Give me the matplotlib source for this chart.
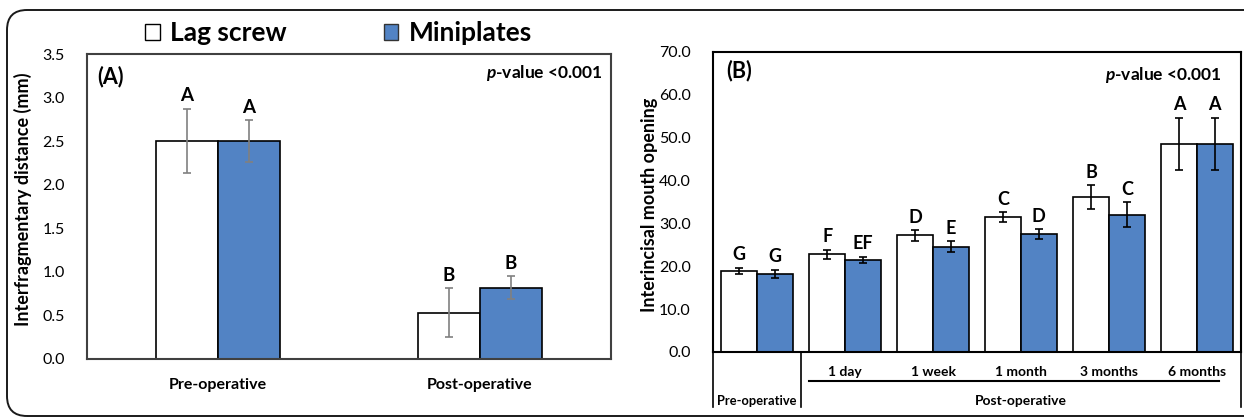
import numpy as np
import matplotlib.pyplot as plt
from matplotlib.patches import Patch, FancyBboxPatch
from matplotlib.ticker import FormatStrFormatter

plt.rcParams['font.family'] = ['Lato', 'DejaVu Sans']
plt.rcParams['mathtext.fontset'] = 'custom'
plt.rcParams['mathtext.bfit'] = 'Lato:italic:bold'
plt.rcParams['mathtext.it'] = 'Lato:italic:bold'

blue = '#5283c4'

# Panel A: interfragmentary distance (mm)
groups_a = ['Pre-operative', 'Post-operative']
lag_a = [2.50, 0.53]
lag_a_err = [0.37, 0.28]
mini_a = [2.50, 0.82]
mini_a_err = [0.24, 0.13]
lag_a_letters = ['A', 'B']
mini_a_letters = ['A', 'B']

# Panel B: interincisal mouth opening
times_b = ['', '1 day', '1 week', '1 month', '3 months', '6 months']
lag_b = [18.9, 22.8, 27.2, 31.5, 36.1, 48.6]
lag_b_err = [0.8, 1.1, 1.2, 1.1, 2.8, 6.1]
mini_b = [18.2, 21.5, 24.6, 27.5, 32.0, 48.6]
mini_b_err = [0.9, 0.75, 1.2, 1.1, 2.9, 6.1]
lag_b_letters = ['G', 'F', 'D', 'C', 'B', 'A']
mini_b_letters = ['G', 'EF', 'E', 'D', 'C', 'A']

fig = plt.figure(figsize=(12.44, 4.17), dpi=100)

# rounded frame round the whole figure (runs off the right edge)
frame = FancyBboxPatch((0.07, 0.01), 13.0, 4.06, boxstyle='round,pad=0,rounding_size=0.2',
                       transform=fig.dpi_scale_trans, facecolor='none', edgecolor='#1a1a1a', lw=1.4)
fig.add_artist(frame)


def letters(ax, xs, tops, labs, size):
    for x, t, s in zip(xs, tops, labs):
        ax.annotate(s, (x, t), xytext=(0, 9.5), textcoords='offset points',
                    ha='center', va='center', fontsize=size, fontweight='bold')


# ---- panel A ----
ax1 = fig.add_axes([0.0699, 0.1391, 0.4212, 0.7314])
x = np.arange(len(groups_a))
w = 0.237
ek = dict(ecolor='#808080', elinewidth=1.2, capsize=3, capthick=1.2)
ax1.bar(x - w / 2, lag_a, w, color='white', edgecolor='black', lw=1.2, yerr=lag_a_err, error_kw=ek)
ax1.bar(x + w / 2, mini_a, w, color=blue, edgecolor='black', lw=1.2, yerr=mini_a_err, error_kw=ek)
letters(ax1, x - w / 2, np.add(lag_a, lag_a_err), lag_a_letters, 13.5)
letters(ax1, x + w / 2, np.add(mini_a, mini_a_err), mini_a_letters, 13.5)
ax1.set_xlim(-0.5, 1.5)
ax1.set_ylim(0, 3.5)
ax1.set_yticks(np.arange(0, 3.51, 0.5))
ax1.yaxis.set_major_formatter(FormatStrFormatter('%.1f'))
ax1.set_xticks(x)
ax1.set_xticklabels(groups_a, fontweight='bold', fontsize=11.5)
ax1.tick_params(axis='y', length=0, pad=16, labelsize=11.5)
ax1.tick_params(axis='x', length=0, pad=14)
for sp in ax1.spines.values():
    sp.set_color('#404040')
    sp.set_linewidth(1.5)
ax1.set_ylabel('Interfragmentary distance (mm)', fontsize=13, fontweight='bold')
ax1.yaxis.set_label_coords(-0.105, 0.525)
ax1.text(0.019, 0.925, '(A)', transform=ax1.transAxes, fontsize=15.5, fontweight='bold', va='center')
ax1.text(0.985, 0.938, r'$\mathbfit{p}$-value <0.001', transform=ax1.transAxes, fontsize=12.5,
         fontweight='bold', ha='right', va='center')

# ---- panel B ----
ax2 = fig.add_axes([0.5732, 0.1559, 0.4244, 0.7194])
x = np.arange(len(times_b))
w = 0.405
ek = dict(ecolor='black', elinewidth=1.2, capsize=3, capthick=1.2)
ax2.bar(x - w / 2, lag_b, w, color='white', edgecolor='black', lw=1.2, yerr=lag_b_err, error_kw=ek)
ax2.bar(x + w / 2, mini_b, w, color=blue, edgecolor='black', lw=1.2, yerr=mini_b_err, error_kw=ek)
letters(ax2, x - w / 2, np.add(lag_b, lag_b_err), lag_b_letters, 13)
letters(ax2, x + w / 2, np.add(mini_b, mini_b_err), mini_b_letters, 13)
ax2.set_xlim(-0.5, 5.5)
ax2.set_ylim(0, 70)
ax2.set_yticks(np.arange(0, 70.1, 10))
ax2.yaxis.set_major_formatter(FormatStrFormatter('%.1f'))
ax2.set_xticks([])
ax2.tick_params(axis='y', length=0, pad=16, labelsize=11.5)
for sp in ax2.spines.values():
    sp.set_color('black')
    sp.set_linewidth(1.5)
ax2.set_ylabel('Interincisal mouth opening', fontsize=13, fontweight='bold')
ax2.yaxis.set_label_coords(-0.104, 0.49)
ax2.text(0.025, 0.937, '(B)', transform=ax2.transAxes, fontsize=15.5, fontweight='bold', va='center')
ax2.text(0.964, 0.923, r'$\mathbfit{p}$-value <0.001', transform=ax2.transAxes, fontsize=12.5,
         fontweight='bold', ha='right', va='center')

# category table under panel B
tr = ax2.get_xaxis_transform()
for xv in [-0.5, 0.5, 5.5]:
    ax2.plot([xv, xv], [0, -0.183], color='black', lw=1.2, transform=tr, clip_on=False)
ax2.plot([1 - w, 5.25], [-0.097, -0.097], color='black', lw=1.5, transform=tr, clip_on=False)
for xv, lab in zip(x, times_b):
    ax2.text(xv, -0.067, lab, transform=tr, ha='center', va='center', fontsize=10, fontweight='bold')
ax2.text(0, -0.163, 'Pre-operative', transform=tr, ha='center', va='center', fontsize=9.3, fontweight='bold')
ax2.text(3, -0.163, 'Post-operative', transform=tr, ha='center', va='center', fontsize=10, fontweight='bold')

# legend
handles = [Patch(facecolor='white', edgecolor='black', lw=1.0),
           Patch(facecolor=blue, edgecolor='#333333', lw=1.0)]
fig.legend(handles, ['Lag screw', 'Miniplates'], loc='center', bbox_to_anchor=(0.272, 0.921),
           ncol=2, frameon=False, prop=dict(weight='bold', size=19),
           handlelength=0.55, handleheight=0.55, handletextpad=0.38, columnspacing=3.7)

fig.savefig('out.png', dpi=100)
